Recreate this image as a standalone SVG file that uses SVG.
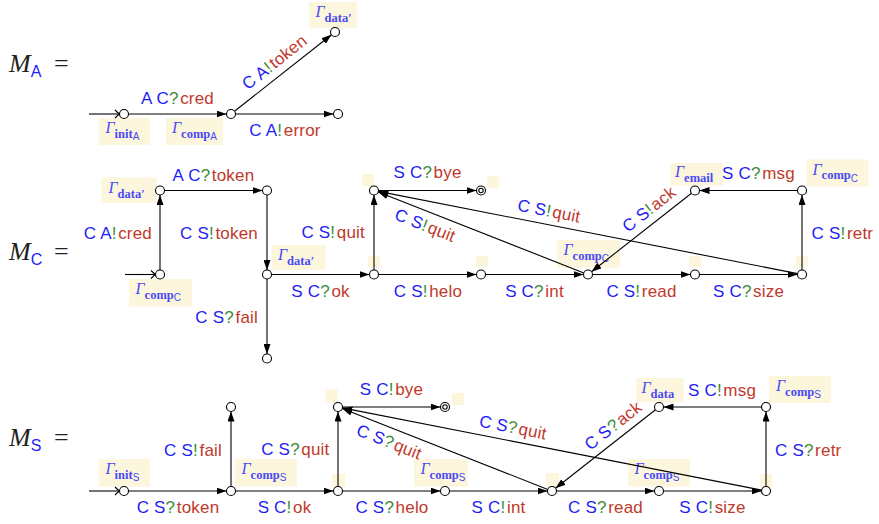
<svg xmlns="http://www.w3.org/2000/svg" width="879" height="524" viewBox="0 0 879 524">
<style>
.lb{font-family:"Liberation Sans",Arial,sans-serif;font-size:17px;letter-spacing:0.2px}
.ag{fill:#1e1ef5}
.op{fill:#3c8c3c}
.ms{fill:#c0392b}
.gm{font-family:"Liberation Serif","Times New Roman",serif;fill:#4a4af5}
.gi{font-style:italic;font-size:16px}
.gs{font-weight:bold;font-size:12.5px}
.gss{font-family:"Liberation Sans",Arial,sans-serif;font-size:10px}
.box{fill:#fcf6dc}
.nd{fill:#fff;stroke:#000;stroke-width:1.1}
.ed{stroke:#000;stroke-width:1.1;fill:none}
.ar{marker-end:url(#ah)}
.mt{font-family:"Liberation Serif","Times New Roman",serif;font-size:26px;fill:#222}
.mi{font-style:italic}
.msub{font-family:"Liberation Sans",Arial,sans-serif;font-size:16px;fill:#1e1ef5}
</style>
<defs>
<marker id="ah" viewBox="0 0 10 7" refX="10" refY="3.5" markerWidth="10" markerHeight="7" markerUnits="userSpaceOnUse" orient="auto"><path d="M0,0 L10,3.5 L0,7 Z" fill="#000"/></marker>
</defs>

<!-- titles -->
<g id="titles">
<text class="mt" x="9" y="72"><tspan class="mi">M</tspan><tspan class="msub" dx="0" dy="5">A</tspan></text><text class="mt" x="54" y="72">=</text>
<text class="mt" x="9" y="260"><tspan class="mi">M</tspan><tspan class="msub" dx="0" dy="5">C</tspan></text><text class="mt" x="54" y="260">=</text>
<text class="mt" x="9" y="446"><tspan class="mi">M</tspan><tspan class="msub" dx="0" dy="5">S</tspan></text><text class="mt" x="54" y="446">=</text>
</g>

<!-- annotation boxes -->
<g id="annotations">
<rect class="box" x="99" y="118" width="51" height="27"/>
<text class="gm" x="105.5" y="133"><tspan class="gi">Γ</tspan><tspan class="gs" dy="4.5">init</tspan><tspan class="gss" dy="2.5">A</tspan></text>
<rect class="box" x="166" y="118" width="57" height="27"/>
<text class="gm" x="172" y="133"><tspan class="gi">Γ</tspan><tspan class="gs" dy="4.5">comp</tspan><tspan class="gss" dy="2.5">A</tspan></text>
<rect class="box" x="309" y="2" width="48" height="26"/>
<text class="gm" x="315.5" y="17"><tspan class="gi">Γ</tspan><tspan class="gs" dy="4.5">data′</tspan></text>

<rect class="box" x="101.5" y="177.5" width="55" height="25.5"/>
<text class="gm" x="108.5" y="193"><tspan class="gi">Γ</tspan><tspan class="gs" dy="4.5">data′</tspan></text>
<rect class="box" x="129" y="279" width="63" height="27.5"/>
<text class="gm" x="135.5" y="294"><tspan class="gi">Γ</tspan><tspan class="gs" dy="4.5">comp</tspan><tspan class="gss" dy="2.5">C</tspan></text>
<rect class="box" x="271.5" y="245" width="54" height="25"/>
<text class="gm" x="278" y="260"><tspan class="gi">Γ</tspan><tspan class="gs" dy="4.5">data′</tspan></text>
<rect class="box" x="362" y="174" width="12" height="12"/>
<rect class="box" x="368" y="256" width="12" height="11"/>
<rect class="box" x="487" y="176" width="12" height="12"/>
<rect class="box" x="476" y="256" width="12" height="11"/>
<rect class="box" x="557" y="240" width="63" height="27.5"/>
<text class="gm" x="563.5" y="255"><tspan class="gi">Γ</tspan><tspan class="gs" dy="4.5">comp</tspan><tspan class="gss" dy="2.5">C</tspan></text>
<rect class="box" x="689" y="256" width="12" height="11"/>
<rect class="box" x="796" y="256" width="12" height="11"/>
<rect class="box" x="670.5" y="163" width="53" height="22.5"/>
<text class="gm" x="675" y="177"><tspan class="gi">Γ</tspan><tspan class="gs" dy="4.5">email</tspan></text>
<rect class="box" x="806.5" y="159.5" width="62" height="27"/>
<text class="gm" x="812.5" y="174.5"><tspan class="gi">Γ</tspan><tspan class="gs" dy="4.5">comp</tspan><tspan class="gss" dy="2.5">C</tspan></text>

<rect class="box" x="99" y="459" width="51" height="27.5"/>
<text class="gm" x="105.5" y="474"><tspan class="gi">Γ</tspan><tspan class="gs" dy="4.5">init</tspan><tspan class="gss" dy="2.5">S</tspan></text>
<rect class="box" x="235" y="459" width="62" height="27.5"/>
<text class="gm" x="241.5" y="474"><tspan class="gi">Γ</tspan><tspan class="gs" dy="4.5">comp</tspan><tspan class="gss" dy="2.5">S</tspan></text>
<rect class="box" x="325.5" y="389.5" width="12" height="13"/>
<rect class="box" x="332" y="474" width="13" height="12.5"/>
<rect class="box" x="452" y="393" width="12" height="12"/>
<rect class="box" x="414" y="459" width="54" height="27.5"/>
<text class="gm" x="420.5" y="474"><tspan class="gi">Γ</tspan><tspan class="gs" dy="4.5">comp</tspan><tspan class="gss" dy="2.5">S</tspan></text>
<rect class="box" x="546" y="473" width="13" height="14"/>
<rect class="box" x="628" y="459" width="62" height="27.5"/>
<text class="gm" x="634.5" y="474"><tspan class="gi">Γ</tspan><tspan class="gs" dy="4.5">comp</tspan><tspan class="gss" dy="2.5">S</tspan></text>
<rect class="box" x="760" y="474" width="12" height="13"/>
<rect class="box" x="636.5" y="378" width="47" height="24"/>
<text class="gm" x="641.5" y="393"><tspan class="gi">Γ</tspan><tspan class="gs" dy="4.5">data</tspan></text>
<rect class="box" x="769" y="376" width="62" height="27"/>
<text class="gm" x="776" y="391"><tspan class="gi">Γ</tspan><tspan class="gs" dy="4.5">comp</tspan><tspan class="gss" dy="2.5">S</tspan></text>
</g>

<!-- connectors -->
<g id="connectors">
<!-- M_A -->
<line class="ed" x1="89" y1="114" x2="119.5" y2="114"/>
<path class="ed" d="M115,110 Q118,113 119.5,114 Q118,115 115,118"/>
<line class="ed ar" x1="128.5" y1="114" x2="226.5" y2="114"/>
<line class="ed ar" x1="235.5" y1="114" x2="333.5" y2="114"/>
<line class="ed ar" x1="234.5" y1="111.2" x2="331.5" y2="34.8"/>
<!-- M_C -->
<line class="ed" x1="125" y1="274.5" x2="155.5" y2="274.5"/>
<path class="ed" d="M151,270.5 Q154,273.5 155.5,274.5 Q154,275.5 151,278.5"/>
<line class="ed ar" x1="160" y1="270" x2="160" y2="195"/>
<line class="ed ar" x1="164.5" y1="190.5" x2="262.5" y2="190.5"/>
<line class="ed ar" x1="267" y1="195" x2="267" y2="270"/>
<line class="ed ar" x1="267" y1="279" x2="267" y2="354"/>
<line class="ed ar" x1="271.5" y1="274.5" x2="369.5" y2="274.5"/>
<line class="ed ar" x1="374" y1="270" x2="374" y2="195"/>
<line class="ed ar" x1="378.5" y1="190.5" x2="476.5" y2="190.5"/>
<line class="ed ar" x1="378.5" y1="274.5" x2="476.5" y2="274.5"/>
<line class="ed ar" x1="485.5" y1="274.5" x2="583.5" y2="274.5"/>
<line class="ed ar" x1="592.5" y1="274.5" x2="690.5" y2="274.5"/>
<line class="ed ar" x1="699.5" y1="274.5" x2="797.5" y2="274.5"/>
<line class="ed ar" x1="802" y1="270" x2="802" y2="195"/>
<line class="ed ar" x1="797.5" y1="190.5" x2="699.5" y2="190.5"/>
<line class="ed ar" x1="691.5" y1="193.3" x2="591.5" y2="271.7"/>
<line class="ed ar" x1="583.8" y1="272.9" x2="378.2" y2="192.1"/>
<line class="ed ar" x1="797.6" y1="273.6" x2="378.4" y2="191.4"/>
<!-- M_S -->
<line class="ed" x1="89" y1="491" x2="119.5" y2="491"/>
<path class="ed" d="M115,487 Q118,490 119.5,491 Q118,492 115,495"/>
<line class="ed ar" x1="128.5" y1="491" x2="226.5" y2="491"/>
<line class="ed ar" x1="231" y1="486.5" x2="231" y2="411.5"/>
<line class="ed ar" x1="235.5" y1="491" x2="333.5" y2="491"/>
<line class="ed ar" x1="338" y1="486.5" x2="338" y2="411.5"/>
<line class="ed ar" x1="342.5" y1="407" x2="440.5" y2="407"/>
<line class="ed ar" x1="342.5" y1="491" x2="440.5" y2="491"/>
<line class="ed ar" x1="449.5" y1="491" x2="547.5" y2="491"/>
<line class="ed ar" x1="556.5" y1="491" x2="654.5" y2="491"/>
<line class="ed ar" x1="663.5" y1="491" x2="761.5" y2="491"/>
<line class="ed ar" x1="766" y1="486.5" x2="766" y2="411.5"/>
<line class="ed ar" x1="761.5" y1="407" x2="663.5" y2="407"/>
<line class="ed ar" x1="655.5" y1="409.8" x2="555.5" y2="488.2"/>
<line class="ed ar" x1="547.8" y1="489.4" x2="342.2" y2="408.6"/>
<line class="ed ar" x1="761.6" y1="490.1" x2="342.4" y2="407.9"/>
</g>

<!-- edge labels -->
<g id="edge-labels" class="lb">
<!-- M_A -->
<text x="177.5" y="104" text-anchor="middle"><tspan class="ag">A C</tspan><tspan class="op">?</tspan><tspan class="ms" dx="1.5">cred</tspan></text>
<text x="285" y="136" text-anchor="middle"><tspan class="ag">C A</tspan><tspan class="op">!</tspan><tspan class="ms" dx="1.5">error</tspan></text>
<text transform="translate(283,73) rotate(-38.3)" x="0" y="-8" text-anchor="middle"><tspan class="ag">C A</tspan><tspan class="op">!</tspan><tspan class="ms" dx="1.5">token</tspan></text>
<!-- M_C -->
<text x="152" y="239" text-anchor="end"><tspan class="ag">C A</tspan><tspan class="op">!</tspan><tspan class="ms" dx="1.5">cred</tspan></text>
<text x="213.5" y="181" text-anchor="middle"><tspan class="ag">A C</tspan><tspan class="op">?</tspan><tspan class="ms" dx="1.5">token</tspan></text>
<text x="258" y="239" text-anchor="end"><tspan class="ag">C S</tspan><tspan class="op">!</tspan><tspan class="ms" dx="1.5">token</tspan></text>
<text x="258" y="323" text-anchor="end"><tspan class="ag">C S</tspan><tspan class="op">?</tspan><tspan class="ms" dx="1.5">fail</tspan></text>
<text x="320.5" y="296.5" text-anchor="middle"><tspan class="ag">S C</tspan><tspan class="op">?</tspan><tspan class="ms" dx="1.5">ok</tspan></text>
<text x="365" y="238" text-anchor="end"><tspan class="ag">C S</tspan><tspan class="op">!</tspan><tspan class="ms" dx="1.5">quit</tspan></text>
<text x="427.5" y="178" text-anchor="middle"><tspan class="ag">S C</tspan><tspan class="op">?</tspan><tspan class="ms" dx="1.5">bye</tspan></text>
<text x="428" y="296.5" text-anchor="middle"><tspan class="ag">C S</tspan><tspan class="op">!</tspan><tspan class="ms" dx="1.5">helo</tspan></text>
<text x="534.5" y="296.5" text-anchor="middle"><tspan class="ag">S C</tspan><tspan class="op">?</tspan><tspan class="ms" dx="1.5">int</tspan></text>
<text x="641.5" y="296.5" text-anchor="middle"><tspan class="ag">C S</tspan><tspan class="op">!</tspan><tspan class="ms" dx="1.5">read</tspan></text>
<text x="748.5" y="296.5" text-anchor="middle"><tspan class="ag">S C</tspan><tspan class="op">?</tspan><tspan class="ms" dx="1.5">size</tspan></text>
<text x="811.5" y="239" text-anchor="start"><tspan class="ag">C S</tspan><tspan class="op">!</tspan><tspan class="ms" dx="1.5">retr</tspan></text>
<text x="758.5" y="179" text-anchor="middle"><tspan class="ag">S C</tspan><tspan class="op">?</tspan><tspan class="ms" dx="1.5">msg</tspan></text>
<text transform="translate(657.5,220) rotate(-38.1)" x="0" y="-8" text-anchor="middle"><tspan class="ag">C S</tspan><tspan class="op">!</tspan><tspan class="ms" dx="1.5">ack</tspan></text>
<text transform="translate(430.4,212.1) rotate(21.4)" x="0" y="20" text-anchor="middle"><tspan class="ag">C S</tspan><tspan class="op">!</tspan><tspan class="ms" dx="1.5">quit</tspan></text>
<text transform="translate(546.4,224.4) rotate(11.1)" x="0" y="-8" text-anchor="middle"><tspan class="ag">C S</tspan><tspan class="op">!</tspan><tspan class="ms" dx="1.5">quit</tspan></text>
<!-- M_S -->
<text x="178" y="513" text-anchor="middle"><tspan class="ag">C S</tspan><tspan class="op">?</tspan><tspan class="ms" dx="1.5">token</tspan></text>
<text x="222" y="455.5" text-anchor="end"><tspan class="ag">C S</tspan><tspan class="op">!</tspan><tspan class="ms" dx="1.5">fail</tspan></text>
<text x="284.5" y="513" text-anchor="middle"><tspan class="ag">S C</tspan><tspan class="op">!</tspan><tspan class="ms" dx="1.5">ok</tspan></text>
<text x="329.5" y="454.5" text-anchor="end"><tspan class="ag">C S</tspan><tspan class="op">?</tspan><tspan class="ms" dx="1.5">quit</tspan></text>
<text x="391.5" y="395" text-anchor="middle"><tspan class="ag">S C</tspan><tspan class="op">!</tspan><tspan class="ms" dx="1.5">bye</tspan></text>
<text x="392" y="513" text-anchor="middle"><tspan class="ag">C S</tspan><tspan class="op">?</tspan><tspan class="ms" dx="1.5">helo</tspan></text>
<text x="498.5" y="513" text-anchor="middle"><tspan class="ag">S C</tspan><tspan class="op">!</tspan><tspan class="ms" dx="1.5">int</tspan></text>
<text x="605.5" y="513" text-anchor="middle"><tspan class="ag">C S</tspan><tspan class="op">?</tspan><tspan class="ms" dx="1.5">read</tspan></text>
<text x="712.5" y="513" text-anchor="middle"><tspan class="ag">S C</tspan><tspan class="op">!</tspan><tspan class="ms" dx="1.5">size</tspan></text>
<text x="775" y="455.5" text-anchor="start"><tspan class="ag">C S</tspan><tspan class="op">?</tspan><tspan class="ms" dx="1.5">retr</tspan></text>
<text x="722" y="396" text-anchor="middle"><tspan class="ag">S C</tspan><tspan class="op">!</tspan><tspan class="ms" dx="1.5">msg</tspan></text>
<text transform="translate(621.5,436.5) rotate(-38.1)" x="0" y="-8" text-anchor="middle"><tspan class="ag">C S</tspan><tspan class="op">?</tspan><tspan class="ms" dx="1.5">ack</tspan></text>
<text transform="translate(394.4,428.6) rotate(21.4)" x="0" y="20" text-anchor="middle"><tspan class="ag">C S</tspan><tspan class="op">?</tspan><tspan class="ms" dx="1.5">quit</tspan></text>
<text transform="translate(510.4,440.9) rotate(11.1)" x="0" y="-8" text-anchor="middle"><tspan class="ag">C S</tspan><tspan class="op">?</tspan><tspan class="ms" dx="1.5">quit</tspan></text>
</g>

<!-- nodes -->
<g id="nodes">
<g id="A0"><circle class="nd" cx="124" cy="114" r="4.5"/></g>
<g id="A1"><circle class="nd" cx="231" cy="114" r="4.5"/></g>
<g id="A2"><circle class="nd" cx="338" cy="114" r="4.5"/></g>
<g id="A3"><circle class="nd" cx="335" cy="32" r="4.5"/></g>

<g id="C0"><circle class="nd" cx="160" cy="274.5" r="4.5"/></g>
<g id="C1"><circle class="nd" cx="160" cy="190.5" r="4.5"/></g>
<g id="C2"><circle class="nd" cx="267" cy="190.5" r="4.5"/></g>
<g id="C3"><circle class="nd" cx="267" cy="274.5" r="4.5"/></g>
<g id="C4"><circle class="nd" cx="267" cy="358.5" r="4.5"/></g>
<g id="C5"><circle class="nd" cx="374" cy="274.5" r="4.5"/></g>
<g id="C6"><circle class="nd" cx="374" cy="190.5" r="4.5"/></g>
<g id="C7"><circle class="nd" cx="481" cy="190.5" r="4.5"/><circle class="nd" cx="481" cy="190.5" r="2.2" stroke-width="1"/></g>
<g id="C8"><circle class="nd" cx="481" cy="274.5" r="4.5"/></g>
<g id="C9"><circle class="nd" cx="588" cy="274.5" r="4.5"/></g>
<g id="C10"><circle class="nd" cx="695" cy="274.5" r="4.5"/></g>
<g id="C11"><circle class="nd" cx="802" cy="274.5" r="4.5"/></g>
<g id="C12"><circle class="nd" cx="802" cy="190.5" r="4.5"/></g>
<g id="C13"><circle class="nd" cx="695" cy="190.5" r="4.5"/></g>

<g id="S0"><circle class="nd" cx="124" cy="491" r="4.5"/></g>
<g id="S1"><circle class="nd" cx="231" cy="491" r="4.5"/></g>
<g id="S2"><circle class="nd" cx="231" cy="407" r="4.5"/></g>
<g id="S3"><circle class="nd" cx="338" cy="491" r="4.5"/></g>
<g id="S4"><circle class="nd" cx="338" cy="407" r="4.5"/></g>
<g id="S5"><circle class="nd" cx="445" cy="407" r="4.5"/><circle class="nd" cx="445" cy="407" r="2.2" stroke-width="1"/></g>
<g id="S6"><circle class="nd" cx="445" cy="491" r="4.5"/></g>
<g id="S7"><circle class="nd" cx="552" cy="491" r="4.5"/></g>
<g id="S8"><circle class="nd" cx="659" cy="491" r="4.5"/></g>
<g id="S9"><circle class="nd" cx="766" cy="491" r="4.5"/></g>
<g id="S10"><circle class="nd" cx="766" cy="407" r="4.5"/></g>
<g id="S11"><circle class="nd" cx="659" cy="407" r="4.5"/></g>
</g>
</svg>
